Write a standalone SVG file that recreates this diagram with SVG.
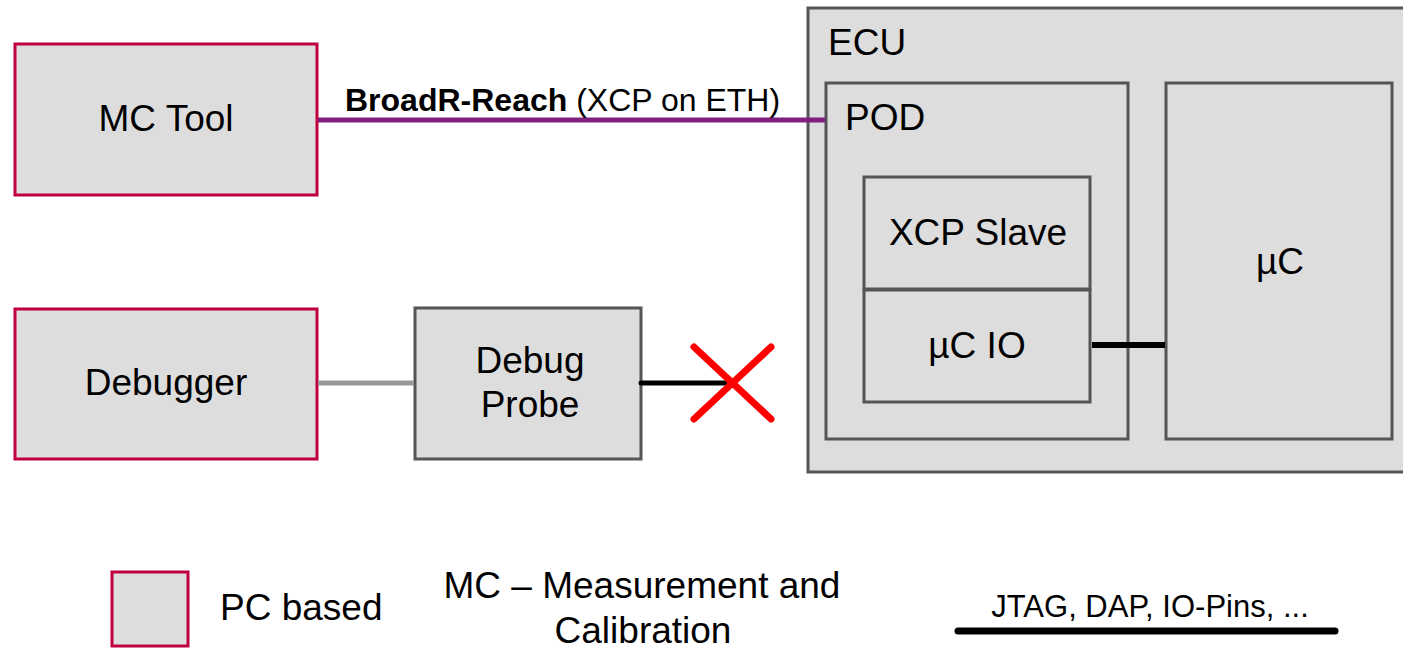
<svg xmlns="http://www.w3.org/2000/svg" width="1403" height="650" viewBox="0 0 1403 650">
<style>
.pc{fill:#dddddd;stroke:#c0003c;stroke-width:3}
.bx{fill:#dddddd;stroke:#555555;stroke-width:3}
text{font-family:"Liberation Sans",Arial,sans-serif;fill:#000}
.t{font-size:37px}
.c{text-anchor:middle}
</style>
<rect width="1403" height="650" fill="#ffffff"/>
<g id="ecu">
<rect class="bx" x="808" y="8" width="600" height="464"/>
<text class="t" x="828" y="55">ECU</text>
</g>
<g id="pod">
<rect class="bx" x="826" y="83" width="302" height="356"/>
<text class="t" x="845" y="130">POD</text>
</g>
<g id="xcp-slave">
<rect class="bx" x="864" y="177" width="226" height="112"/>
<text class="t c" x="978" y="245">XCP Slave</text>
</g>
<g id="uc-io">
<rect class="bx" x="864" y="290" width="226" height="112"/>
<text class="t c" x="977" y="358">µC IO</text>
</g>
<g id="uc">
<rect class="bx" x="1166" y="83" width="226" height="356"/>
<text class="t c" x="1280" y="274">µC</text>
</g>
<g id="mc-tool">
<rect class="pc" x="15" y="44" width="302" height="151"/>
<text class="t c" x="166" y="131">MC Tool</text>
</g>
<g id="debugger">
<rect class="pc" x="15" y="309" width="302" height="150"/>
<text class="t c" x="166" y="395">Debugger</text>
</g>
<g id="debug-probe">
<rect class="bx" x="415" y="308" width="226" height="151"/>
<text class="t c" x="530" y="373">Debug</text>
<text class="t c" x="530" y="417">Probe</text>
</g>
<g id="connectors">
<line x1="318" y1="120" x2="825" y2="120" stroke="#7f1f7f" stroke-width="5"/>
<text x="345" y="111" font-size="32"><tspan font-weight="bold">BroadR-Reach</tspan> (XCP on ETH)</text>
<line x1="318" y1="383" x2="414" y2="383" stroke="#999999" stroke-width="5"/>
<line x1="641" y1="383" x2="725" y2="383" stroke="#000" stroke-width="5" stroke-linecap="round"/>
<line x1="1092" y1="345" x2="1165" y2="345" stroke="#000" stroke-width="6"/>
<g id="cross" stroke="#ff0000" stroke-width="7" stroke-linecap="round">
<line x1="694" y1="347" x2="771" y2="419"/>
<line x1="771" y1="347" x2="694" y2="419"/>
</g>
</g>
<g id="legend">
<rect class="pc" x="112" y="572" width="76" height="74"/>
<text class="t" x="220" y="620">PC based</text>
<text class="t c" x="642" y="598">MC – Measurement and</text>
<text class="t c" x="643" y="643">Calibration</text>
<text class="c" x="1150" y="617" font-size="31">JTAG, DAP, IO-Pins, ...</text>
<line x1="958" y1="631" x2="1335" y2="631" stroke="#000" stroke-width="7" stroke-linecap="round"/>
</g>
</svg>
